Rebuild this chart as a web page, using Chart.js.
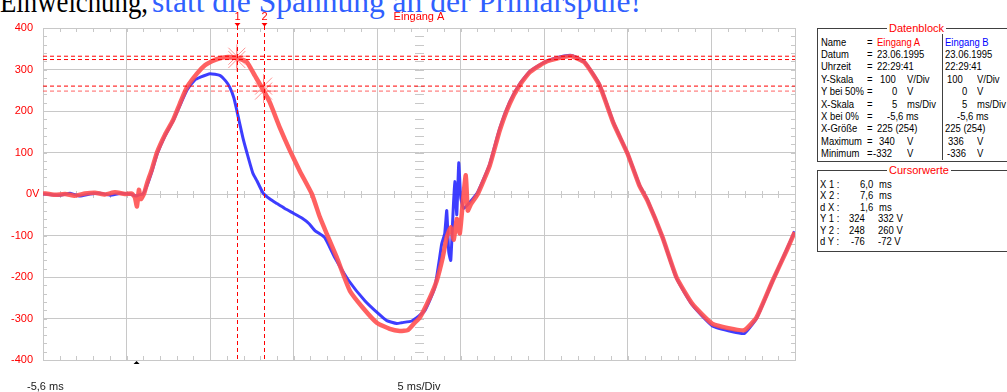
<!DOCTYPE html>
<html>
<head>
<meta charset="utf-8">
<script src="https://cdn.jsdelivr.net/npm/chart.js@4.4.1/dist/chart.umd.min.js"></script>
<style>
    html, body { margin: 0; padding: 0; background: #fff; width: 1007px; height: 392px; overflow: hidden; }
    body { position: relative; font-family: "Liberation Sans", Arial, sans-serif; }
    #chartBox { position: absolute; left: 0; top: 0; width: 810px; height: 392px; }
    .head { position: absolute; top: -14px; white-space: nowrap; font-family: "Liberation Serif", "Times New Roman", serif; font-size: 31.5px; line-height: 32px; }
    #headBlack { left: 0; color: #000; transform: scaleX(0.85); transform-origin: 0 0; }
    #headBlue { left: 152px; color: #3060ff; }
    .frame { position: absolute; border: 1px solid #404040; }
    .ftitle { position: absolute; background: #fff; color: #ff0000; font-size: 11px; line-height: 12px; padding: 0 2px; }
    .row { position: absolute; left: 0; height: 12px; font-size: 11px; line-height: 12px; white-space: nowrap; color: #000; }
    .row span { position: absolute; top: 0; display: inline-block; transform: scaleX(0.86); transform-origin: 0 0; }
    .red { color: #ff0000; }
    .blu { color: #0000ff; }
</style>
</head>
<body>
<div class="head" id="headBlack">Einweichung,</div>
<div class="head" id="headBlue">statt die Spannung an der Primärspule!</div>
<div id="chartBox"><canvas id="scope" width="810" height="392"></canvas></div>

<div class="frame" style="left:817px;top:28px;width:210px;height:132px;"></div>
<div class="frame" style="left:942px;top:28px;width:0;height:132px;border-width:0 0 0 1px;"></div>
<div class="ftitle" style="left:887px;top:22px;">Datenblock</div>
<div class="frame" style="left:817px;top:170px;width:210px;height:80px;"></div>
<div class="ftitle" style="left:887px;top:164px;">Cursorwerte</div>
<div id="panel"></div>

<script>
document.addEventListener("DOMContentLoaded", () => {

    // time axis (ms) and voltages (V)
    const tA = [-5.6, -4.88, -4.28, -3.69, -3.09, -2.49, -1.89, -1.29, -0.70, -0.28, -0.10, 0.02, 0.14, 0.26, 0.44,
        0.62, 0.92, 1.22, 1.70, 2.17, 2.59, 3.01, 3.61, 4.09, 4.51, 4.98, 5.46, 6.00, 6.60, 7.08, 7.56, 7.98, 8.57,
        9.17, 9.77, 10.49, 10.96, 11.38, 11.98, 12.76, 13.54, 14.37, 15.15, 15.75, 16.23, 16.65, 16.95, 17.55, 17.96,
        18.32, 18.56, 18.80, 18.98, 19.16, 19.34, 19.52, 19.70, 19.82, 20.00, 20.42, 21.13, 21.73, 22.33, 22.92, 23.52,
        24.42, 25.31, 26.03, 26.81, 27.70, 28.54, 29.38, 30.09, 30.57, 31.47, 32.31, 33.26, 34.46, 35.66, 36.38, 37.09,
        38.06, 38.90, 39.38];
    const vA = [2, -2, 0, -4, 1, 3, -1, 4, 0, 1, -8, -30, 10, -12, 0,
        25, 60, 100, 143, 177, 218, 257, 290, 310, 320, 327, 330, 328, 318, 285, 252, 220, 160,
        105, 55, 0, -55, -96, -153, -233, -274, -310, -325, -330, -328, -310, -298, -250, -209,
        -153, -104, -80, -110, -60, -95, -20, 45, -40, -25, 0, 68, 153, 218, 262, 293,
        317, 328, 332, 317, 262, 170, 97, 20, -16, -104, -201, -265, -313, -325, -328, -298,
        -209, -136, -92];

    const tB = [-5.6, -4.58, -3.98, -3.39, -2.79, -2.19, -1.59, -1.00, -0.40, -0.04, 0.14, 0.38, 0.62, 0.92, 1.22,
        1.70, 2.17, 2.59, 3.01, 3.49, 3.79, 4.39, 4.98, 5.34, 5.58, 5.82, 6.00, 6.36, 6.60, 6.96, 7.20, 7.56, 7.98,
        8.40, 8.87, 9.41, 9.89, 10.31, 10.67, 11.26, 11.86, 12.70, 13.66, 14.49, 14.97, 15.57, 15.87, 16.47, 17.25,
        17.84, 18.08, 18.26, 18.44, 18.56, 18.68, 18.80, 18.92, 19.04, 19.16, 19.28, 19.40, 19.58, 19.94, 20.42, 21.13,
        21.73, 22.33, 22.92, 23.52, 24.42, 25.31, 26.03, 26.81, 27.70, 28.54, 29.38, 30.09, 30.57, 31.47, 32.31, 33.26,
        34.46, 35.66, 36.38, 37.09, 38.06, 38.90, 39.38];
    const vB = [0, -3, 2, -5, 0, 2, -3, 1, 0, -5, -2, 0, 20, 55, 95,
        140, 175, 213, 250, 275, 281, 290, 286, 272, 257, 232, 201, 136, 100, 50, 32, 3, -12,
        -23, -35, -47, -58, -71, -88, -105, -153, -209, -257, -289, -305, -312, -310, -306, -281,
        -226, -168, -120, -95, -40, -140, -160, -60, 30, -50, 75, -10, -35, -20, 5, 72,
        158, 222, 265, 295, 318, 330, 334, 318, 264, 172, 98, 22, -14, -104, -203, -268,
        -318, -332, -336, -300, -210, -134, -90];

    const yTicks = [400, 300, 200, 100, 0, -100, -200, -300, -400];
    const yTickLabels = ["400", "300", "200", "100", "0V", "-100", "-200", "-300", "-400"];
    const xStart = -5.6;
    const msPerDiv = 5;
    const xDivs = 9;
    const xEnd = xStart + msPerDiv * xDivs;

    // cursors: X1, X2 (ms) and Y values for channel A / B
    const cursorX = [6.0, 7.6];
    const cursorLabels = ["1", "2"];
    const cursorY1 = [324, 332];
    const cursorY2 = [248, 260];
    const triggerAt = 0;

    const datenblock = [
        ["Name", "=", [[877, "Eingang A", "red"]], [[945, "Eingang B", "blu"]]],
        ["Datum", "=", [[877, "23.06.1995"]], [[945, "23.06.1995"]]],
        ["Uhrzeit", "=", [[877, "22:29:41"]], [[945, "22:29:41"]]],
        ["Y-Skala", "=", [[880, "100"], [907, "V/Div"]], [[947, "100"], [977, "V/Div"]]],
        ["Y bei 50%", "=", [[892, "0"], [907, "V"]], [[962, "0"], [977, "V"]]],
        ["X-Skala", "=", [[892, "5"], [907, "ms/Div"]], [[962, "5"], [977, "ms/Div"]]],
        ["X bei 0%", "=", [[887, "-5,6 ms"]], [[957, "-5,6 ms"]]],
        ["X-Größe", "=", [[877, "225 (254)"]], [[945, "225 (254)"]]],
        ["Maximum", "=", [[879, "340"], [907, "V"]], [[948, "336"], [977, "V"]]],
        ["Minimum", "=", [[873, "-332"], [907, "V"]], [[947, "-336"], [977, "V"]]]
    ];
    const cursorwerte = [
        ["X 1 :", [[860, "6,0"], [879, "ms"]]],
        ["X 2 :", [[860, "7,6"], [879, "ms"]]],
        ["d X :", [[860, "1,6"], [879, "ms"]]],
        ["Y 1 :", [[849, "324"], [878, "332 V"]]],
        ["Y 2 :", [[849, "248"], [878, "260 V"]]],
        ["d Y :", [[851, "-76"], [878, "-72 V"]]]
    ];

    // side panel text
    const panel = document.getElementById("panel");
    let html = "";
    datenblock.forEach((r, i) => {
        const top = 35.5 + i * 12.4;
        html += `<div class="row" style="top:${top}px;"><span style="left:821px">${r[0]}</span><span style="left:867px">${r[1]}</span>`;
        r[2].concat(r[3]).forEach(p => {
            html += `<span class="${p[2] || ""}" style="left:${p[0]}px">${p[1]}</span>`;
        });
        html += "</div>";
    });
    cursorwerte.forEach((r, i) => {
        const top = 177.5 + i * 11.5;
        html += `<div class="row" style="top:${top}px;"><span style="left:820px">${r[0]}</span>`;
        r[1].forEach(p => { html += `<span style="left:${p[0]}px">${p[1]}</span>`; });
        html += "</div>";
    });
    panel.innerHTML = html;

    const RED = "#ff0000";
    const GRID = "#c8c8c8";

    const overlay = {
        id: "overlay",
        beforeDatasetsDraw(chart) {
            const { ctx, chartArea: a, scales: { x, y } } = chart;
            ctx.save();
            ctx.strokeStyle = GRID;
            ctx.lineWidth = 1;
            ctx.beginPath();
            const xMid = Math.round(x.getPixelForValue(xStart + msPerDiv * xDivs / 2));
            const yMid = Math.round(y.getPixelForValue(0));
            for (let t = xStart + 1; t < xEnd - 0.01; t += 1) {
                const px = Math.round(x.getPixelForValue(t)) + 0.5;
                ctx.moveTo(px, a.top); ctx.lineTo(px, a.top + 4);
                ctx.moveTo(px, a.bottom); ctx.lineTo(px, a.bottom - 4);
                ctx.moveTo(px, yMid - 3); ctx.lineTo(px, yMid + 4);
            }
            for (let v = -380; v < 400; v += 20) {
                const py = Math.round(y.getPixelForValue(v)) + 0.5;
                ctx.moveTo(a.left, py); ctx.lineTo(a.left + 4, py);
                ctx.moveTo(a.right, py); ctx.lineTo(a.right - 4, py);
                ctx.moveTo(xMid - 4, py); ctx.lineTo(xMid + 5, py);
            }
            ctx.stroke();
            ctx.restore();
        },
        afterDatasetsDraw(chart) {
            const { ctx, chartArea: a, scales: { x } } = chart;
            ctx.save();
            ctx.strokeStyle = RED;
            ctx.lineWidth = 1;
            ctx.setLineDash([4, 3]);
            cursorX.forEach(c => {
                const px = Math.round(x.getPixelForValue(c)) + 0.5;
                ctx.beginPath();
                ctx.moveTo(px, 26); ctx.lineTo(px, a.bottom);
                ctx.stroke();
            });
            ctx.restore();
        },
        afterDraw(chart) {
            const { ctx, chartArea: a, scales: { x, y } } = chart;
            ctx.save();
            ctx.font = '11px "Liberation Sans", Arial, sans-serif';
            ctx.textBaseline = "middle";
            // y labels
            ctx.fillStyle = RED;
            yTicks.forEach((v, i) => {
                const py = y.getPixelForValue(v);
                if (yTickLabels[i] === "0V") {
                    ctx.textAlign = "left";
                    ctx.fillText("0V", 26, py);
                } else {
                    ctx.textAlign = "right";
                    ctx.fillText(yTickLabels[i], 33, py);
                }
            });
            // title of trace
            ctx.textAlign = "center";
            ctx.fillText("Eingang A", (a.left + a.right) / 2, 17);
            // cursor markers above the plot
            cursorX.forEach((c, i) => {
                const px = Math.round(x.getPixelForValue(c)) + 0.5;
                ctx.fillText(cursorLabels[i], px, 17);
                ctx.beginPath();
                ctx.moveTo(px - 3, 23); ctx.lineTo(px + 3, 23); ctx.lineTo(px, 26.5); ctx.closePath();
                ctx.fill();
            });
            // trigger mark
            const tx = x.getPixelForValue(triggerAt);
            ctx.fillStyle = "#000";
            ctx.beginPath();
            ctx.moveTo(tx - 3, a.bottom + 4); ctx.lineTo(tx + 3, a.bottom + 4); ctx.lineTo(tx, a.bottom + 1); ctx.closePath();
            ctx.fill();
            // bottom texts
            ctx.fillStyle = "#202020";
            ctx.textAlign = "left";
            ctx.fillText("-5,6 ms", 27, 387);
            ctx.textAlign = "center";
            ctx.fillText(msPerDiv + " ms/Div", (a.left + a.right) / 2, 387);
            ctx.restore();
        }
    };

    const pts = (ts, vs) => ts.map((t, i) => ({ x: t, y: vs[i] }));
    const hLine = (v) => [{ x: xStart, y: v }, { x: xEnd, y: v }];
    const cursorStyle = { borderColor: RED, borderWidth: 1, borderDash: [4, 3], pointRadius: 0, order: 0 };

    const ctx = document.getElementById("scope").getContext("2d");
    new Chart(ctx, {
        type: "line",
        data: {
            datasets: [
                { data: pts(tA, vA), borderColor: "rgba(255, 80, 80, 0.9)", borderWidth: 4.5, pointRadius: 0, tension: 0.15, order: 1 },
                { data: pts(tB, vB), borderColor: "rgba(40, 40, 255, 0.9)", borderWidth: 3, pointRadius: 0, tension: 0.15, order: 2 },
                { data: hLine(cursorY1[0]), ...cursorStyle },
                { data: hLine(cursorY1[1]), ...cursorStyle },
                { data: hLine(cursorY2[0]), ...cursorStyle, borderColor: "rgba(255, 60, 60, 0.8)" },
                { data: hLine(cursorY2[1]), ...cursorStyle },
                {
                    type: "scatter",
                    data: [
                        { x: cursorX[0], y: cursorY1[0] }, { x: cursorX[0], y: cursorY1[1] },
                        { x: cursorX[1], y: cursorY2[0] }, { x: cursorX[1], y: cursorY2[1] }
                    ],
                    pointStyle: "star", pointRadius: 12, pointBorderWidth: 1,
                    pointBorderColor: "rgba(255, 100, 100, 0.7)", pointBackgroundColor: "transparent", order: 0
                }
            ]
        },
        options: {
            responsive: false,
            animation: false,
            events: [],
            layout: { padding: { left: 43, top: 28, right: 15, bottom: 32 } },
            plugins: { legend: { display: false }, tooltip: { enabled: false } },
            scales: {
                x: {
                    type: "linear", min: xStart, max: xEnd,
                    afterBuildTicks: (scale) => {
                        const t = [];
                        for (let i = 0; i <= xDivs; i++) t.push({ value: xStart + i * msPerDiv });
                        scale.ticks = t;
                    },
                    ticks: { display: false },
                    grid: { color: GRID, drawTicks: false },
                    border: { color: GRID }
                },
                y: {
                    min: -400, max: 400,
                    ticks: { display: false, stepSize: 100 },
                    grid: { color: GRID, drawTicks: false },
                    border: { color: GRID }
                }
            }
        },
        plugins: [overlay]
    });
});
</script>
</body>
</html>
